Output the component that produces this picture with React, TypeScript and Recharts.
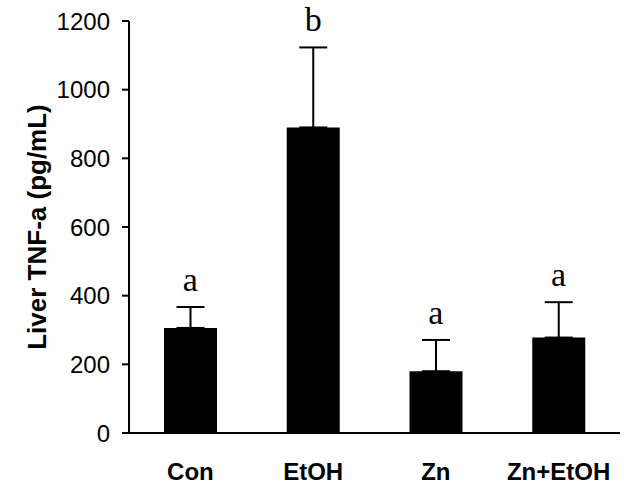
import React from 'react';
import { ComposedChart, Bar, Line, XAxis, YAxis, ErrorBar, LabelList } from 'recharts';

const categories = ['Con', 'EtOH', 'Zn', 'Zn+EtOH'];
const means = [306, 890, 180, 278];
const sems = [61, 233, 91, 103];
const letters = ['a', 'b', 'a', 'a'];
const yTicks = [0, 200, 400, 600, 800, 1000, 1200];

const data = categories.map((c, i) => ({
  name: c,
  mean: means[i],
  err: [0, sems[i]],
  top: means[i] + sems[i],
  letter: letters[i],
}));

export default function App() {
  return (
    <div style={{ position: 'absolute', left: 0, top: 0, width: 624, height: 485, background: '#fff' }}>
      <ComposedChart
        width={624}
        height={485}
        data={data}
        margin={{ top: 21, right: 4, bottom: 0, left: 0 }}
        barCategoryGap="28%"
      >
        <XAxis
          dataKey="name"
          height={52}
          tickLine={false}
          axisLine={{ stroke: '#000', strokeWidth: 2 }}
          tickMargin={24}
          tick={{ fill: '#000', fontSize: 24, fontWeight: 'bold', fontFamily: 'Liberation Sans, Arial, sans-serif' }}
        />
        <YAxis
          width={129}
          domain={[0, 1200]}
          ticks={yTicks}
          interval={0}
          tickSize={7}
          tickMargin={12}
          axisLine={{ stroke: '#000', strokeWidth: 2 }}
          tickLine={{ stroke: '#000', strokeWidth: 2 }}
          tick={{ fill: '#000', fontSize: 24, fontFamily: 'Liberation Sans, Arial, sans-serif' }}
          label={{
            value: 'Liver TNF-a (pg/mL)',
            angle: -90,
            position: 'insideLeft',
            offset: 37,
            style: { textAnchor: 'middle', fill: '#000', fontSize: 26, fontWeight: 'bold', fontFamily: 'Liberation Sans, Arial, sans-serif' },
          }}
        />
        <Bar dataKey="mean" fill="#000" barSize={53} isAnimationActive={false}>
          <ErrorBar dataKey="err" direction="y" width={14} stroke="#000" strokeWidth={2} />
        </Bar>
        <Line dataKey="top" stroke="none" dot={false} activeDot={false} isAnimationActive={false} legendType="none">
          <LabelList
            dataKey="letter"
            position="top"
            offset={16}
            style={{ fill: '#000', fontSize: 34, fontFamily: 'Liberation Serif, Times New Roman, serif' }}
          />
        </Line>
      </ComposedChart>
    </div>
  );
}
